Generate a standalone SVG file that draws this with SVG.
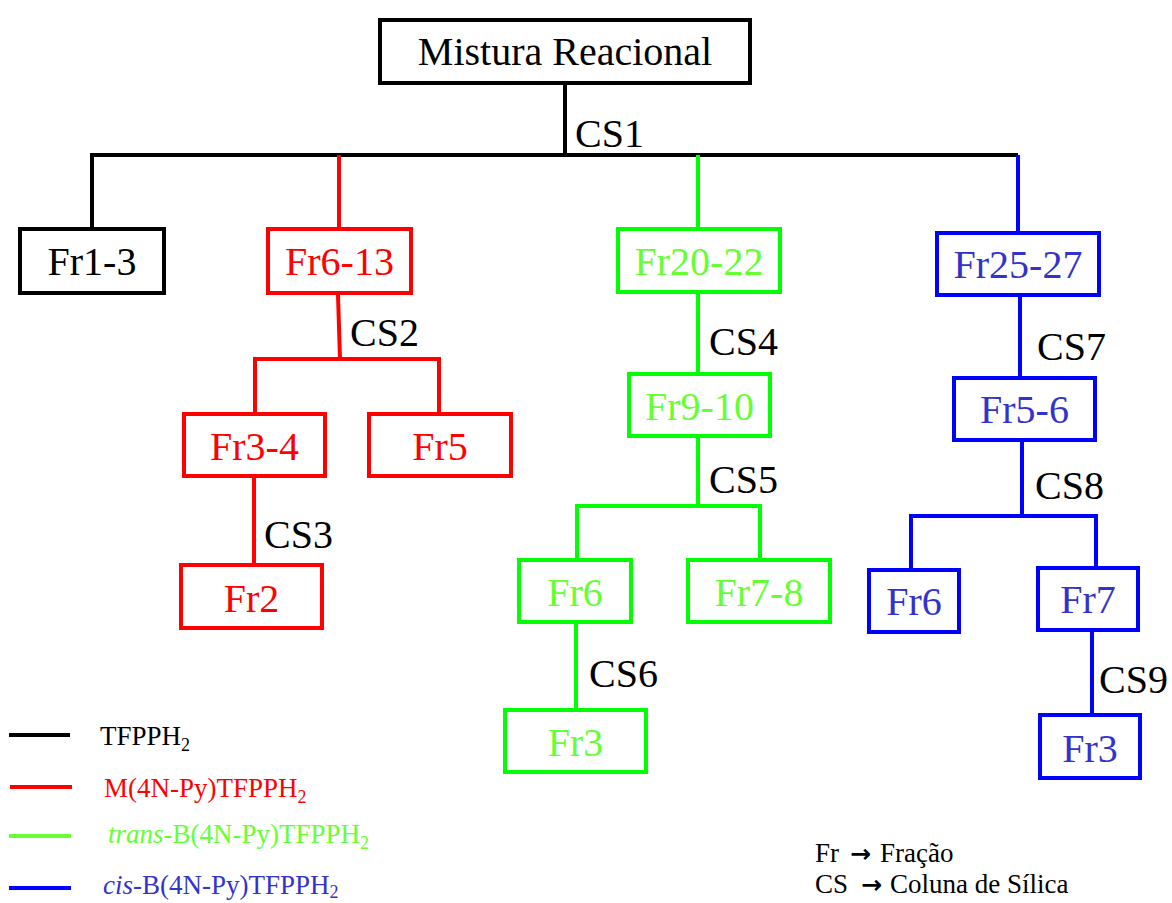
<svg xmlns="http://www.w3.org/2000/svg" width="1172" height="903" viewBox="0 0 1172 903">
<style>
  .t{font-family:"Liberation Serif","Times New Roman",serif;font-size:40px;text-anchor:middle}
  .cs{font-family:"Liberation Serif","Times New Roman",serif;font-size:40px;fill:#000}
  .lg{font-family:"Liberation Serif","Times New Roman",serif;font-size:27px}
  .ar{font-family:"DejaVu Sans",sans-serif;font-weight:bold;font-size:25px}
  .box{fill:#fff;stroke-width:4}
  .k{stroke:#000}.r{stroke:#ff0000}.g{stroke:#00ff00}.b{stroke:#0000ff}
  .tk{fill:#000}.tr{fill:#ff0000}.tg{fill:#66ff33}.tb{fill:#3333cc}
  .ln{fill:none;stroke-width:4;stroke-linecap:butt;stroke-linejoin:miter}
</style>
<rect width="1172" height="903" fill="#fff"/>
<g id="connectors">
  <path class="ln k" d="M565,85 V155"/>
  <path class="ln k" d="M92,227 V155 H1018"/>
  <path class="ln r" d="M339,155 V227"/>
  <path class="ln r" d="M338,295 L340,359"/>
  <path class="ln r" d="M255,412 V359 H439 V412"/>
  <path class="ln r" d="M254,478 V563"/>
  <path class="ln g" d="M698,155 V227"/>
  <path class="ln g" d="M698,294 V372"/>
  <path class="ln g" d="M698,438 V506"/>
  <path class="ln g" d="M577,558 V506 H760 V558"/>
  <path class="ln g" d="M576,624 V708"/>
  <path class="ln b" d="M1018,155 V231"/>
  <path class="ln b" d="M1020,297 V376"/>
  <path class="ln b" d="M1022,442 V517"/>
  <path class="ln b" d="M911,568 V516 H1096 V566"/>
  <path class="ln b" d="M1092,632 V713"/>
</g>
<g id="cs-labels">
  <text class="cs" x="575" y="147">CS1</text>
  <text class="cs" x="350" y="346">CS2</text>
  <text class="cs" x="264" y="548">CS3</text>
  <text class="cs" x="709" y="355">CS4</text>
  <text class="cs" x="709" y="493">CS5</text>
  <text class="cs" x="589" y="687">CS6</text>
  <text class="cs" x="1037" y="360">CS7</text>
  <text class="cs" x="1035" y="499">CS8</text>
  <text class="cs" x="1099" y="693">CS9</text>
</g>
<g id="n-mistura"><rect class="box k" x="380" y="20" width="370" height="63"/><text class="t tk" x="565" y="65">Mistura Reacional</text></g>
<g id="n-fr1-3"><rect class="box k" x="20" y="229" width="144" height="64"/><text class="t tk" x="92" y="275">Fr1-3</text></g>
<g id="n-fr6-13"><rect class="box r" x="268" y="229" width="143" height="64"/><text class="t tr" x="339.5" y="275">Fr6-13</text></g>
<g id="n-fr20-22"><rect class="box g" x="618" y="229" width="162" height="63"/><text class="t tg" x="699" y="275">Fr20-22</text></g>
<g id="n-fr25-27"><rect class="box b" x="937" y="233" width="162" height="62"/><text class="t tb" x="1018" y="278">Fr25-27</text></g>
<g id="n-fr3-4"><rect class="box r" x="184" y="414" width="141" height="62"/><text class="t tr" x="254.5" y="460">Fr3-4</text></g>
<g id="n-fr5"><rect class="box r" x="369" y="414" width="142" height="62"/><text class="t tr" x="440" y="460">Fr5</text></g>
<g id="n-fr2"><rect class="box r" x="181" y="565" width="141" height="63"/><text class="t tr" x="251.5" y="612">Fr2</text></g>
<g id="n-fr9-10"><rect class="box g" x="629" y="374" width="141" height="62"/><text class="t tg" x="699.5" y="420">Fr9-10</text></g>
<g id="n-fr6-g"><rect class="box g" x="519" y="560" width="112" height="62"/><text class="t tg" x="575" y="606">Fr6</text></g>
<g id="n-fr7-8"><rect class="box g" x="688" y="560" width="142" height="62"/><text class="t tg" x="759" y="606">Fr7-8</text></g>
<g id="n-fr3-g"><rect class="box g" x="505" y="710" width="141" height="62"/><text class="t tg" x="575.5" y="756">Fr3</text></g>
<g id="n-fr5-6"><rect class="box b" x="954" y="378" width="141" height="62"/><text class="t tb" x="1024.5" y="423">Fr5-6</text></g>
<g id="n-fr6-b"><rect class="box b" x="869" y="570" width="90" height="62"/><text class="t tb" x="914" y="615">Fr6</text></g>
<g id="n-fr7-b"><rect class="box b" x="1038" y="568" width="100" height="62"/><text class="t tb" x="1088" y="613">Fr7</text></g>
<g id="n-fr3-b"><rect class="box b" x="1040" y="715" width="100" height="63"/><text class="t tb" x="1090" y="762">Fr3</text></g>
<g id="legend">
  <line class="ln k" x1="9" y1="735" x2="70" y2="735"/>
  <line class="ln r" x1="10" y1="787" x2="72" y2="787"/>
  <line class="ln" style="stroke:#66ff33" x1="9" y1="836" x2="71" y2="836"/>
  <line class="ln b" x1="9" y1="888" x2="71" y2="888"/>
  <text class="lg tk" x="100" y="745">TFPPH<tspan font-size="18" dy="6">2</tspan></text>
  <text class="lg tr" x="104" y="797">M(4N-Py)TFPPH<tspan font-size="18" dy="6">2</tspan></text>
  <text class="lg tg" x="108" y="843"><tspan font-style="italic">trans</tspan>-B(4N-Py)TFPPH<tspan font-size="18" dy="6">2</tspan></text>
  <text class="lg tb" x="103" y="894"><tspan font-style="italic">cis</tspan>-B(4N-Py)TFPPH<tspan font-size="18" dy="4">2</tspan></text>
</g>
<g id="key">
  <text class="lg tk" x="815" y="862">Fr<tspan class="ar" x="850">→</tspan><tspan x="880">Fração</tspan></text>
  <text class="lg tk" x="815" y="893">CS<tspan class="ar" x="861">→</tspan><tspan x="890">Coluna de Sílica</tspan></text>
</g>
</svg>
